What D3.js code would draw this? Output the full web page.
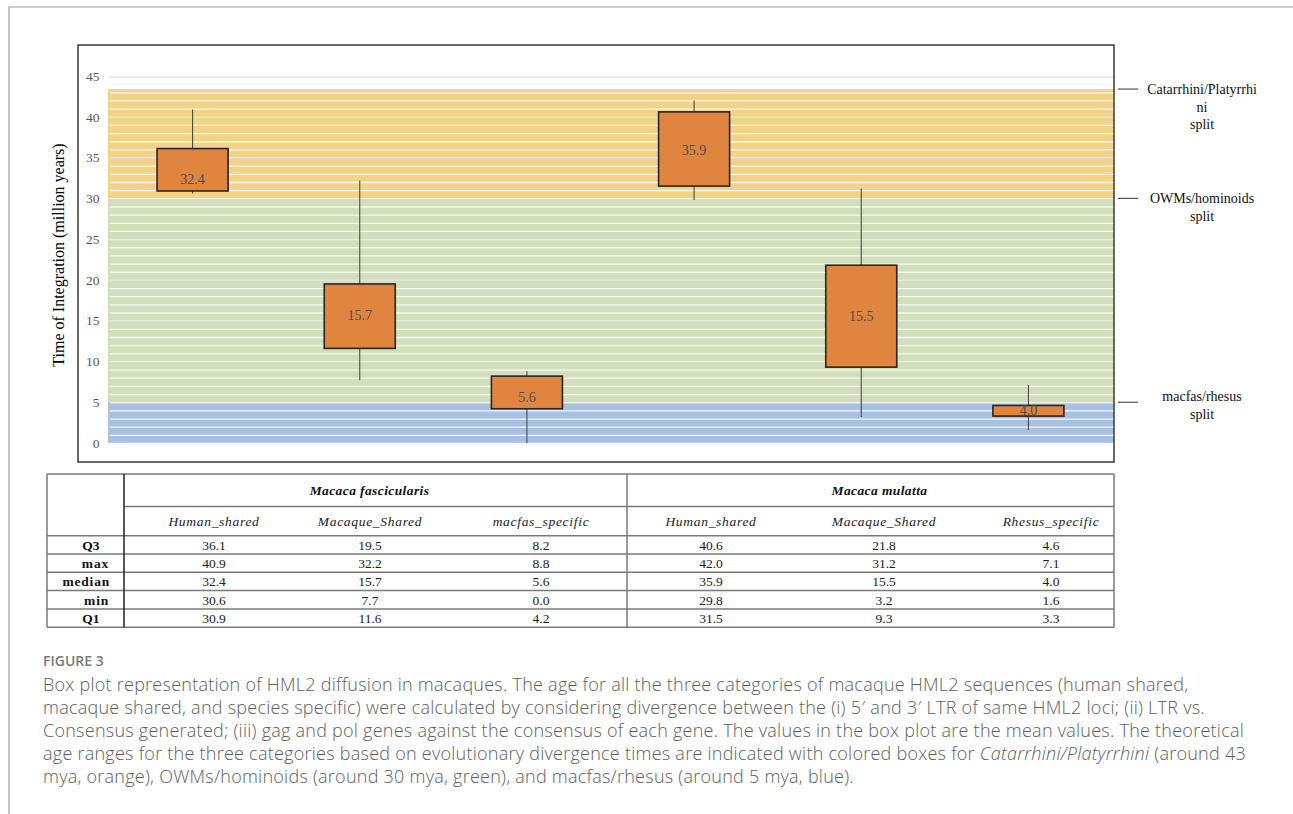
<!DOCTYPE html>
<html>
<head>
<meta charset="utf-8">
<script src="https://cdn.jsdelivr.net/npm/d3@7"></script>
<style>
  body { margin: 0; background: #fff; }
  svg { display: block; }
</style>
</head>
<body>
<svg id="fig" width="1293" height="814"></svg>
<script>
// ---- data ----
const species = ["Macaca fascicularis", "Macaca mulatta"];
const categories = ["Human_shared", "Macaque_Shared", "macfas_specific",
                    "Human_shared", "Macaque_Shared", "Rhesus_specific"];
const q3Values     = [36.1, 19.5, 8.2, 40.6, 21.8, 4.6];
const maxValues    = [40.9, 32.2, 8.8, 42.0, 31.2, 7.1];
const medianValues = [32.4, 15.7, 5.6, 35.9, 15.5, 4.0];
const minValues    = [30.6, 7.7, 0.0, 29.8, 3.2, 1.6];
const q1Values     = [30.9, 11.6, 4.2, 31.5, 9.3, 3.3];

const yTicks = [0, 5, 10, 15, 20, 25, 30, 35, 40, 45];

// divergence-time bands (million years)
const bandLow   = [30, 5, 0];
const bandHigh  = [43.4, 30, 5];
const splitNames = [["Catarrhini/Platyrrhi", "ni", "split"],
                    ["OWMs/hominoids", "split"],
                    ["macfas/rhesus", "split"]];

const rowNames = ["Q3", "max", "median", "min", "Q1"];
const rowValues = [q3Values, maxValues, medianValues, minValues, q1Values];

// ---- layout ----
const svg = d3.select("#fig");
const serif = "'Liberation Serif', 'Times New Roman', serif";
const sans = "'Open Sans', 'Noto Sans', sans-serif";

const frame = { left: 78, top: 45, right: 1114, bottom: 462 };
const plotLeft = 108, plotRight = 1114;

const y = d3.scaleLinear().domain([0, 45]).range([443, 76]);
const x = d3.scaleBand().domain(d3.range(categories.length)).range([109, 1112]);
const boxW = 71;

const bandColors = ["#F3D385", "#D1E0BA", "#A6C1E4"];

// outer figure rule
svg.append("path").attr("d", "M9,814V7H1293").attr("fill", "none")
   .attr("stroke", "#9a9a9a").attr("stroke-width", 1.2);

// divergence bands
svg.append("g").selectAll("rect").data(bandLow).join("rect")
  .attr("x", plotLeft).attr("width", plotRight - plotLeft)
  .attr("y", (d, i) => y(bandHigh[i]))
  .attr("height", (d, i) => y(d) - y(bandHigh[i]))
  .attr("fill", (d, i) => bandColors[i]);

// hatching lines each million years
svg.append("g").selectAll("line").data(d3.range(0, 46)).join("line")
  .attr("x1", plotLeft + 2).attr("x2", plotRight)
  .attr("y1", d => y(d) + 0.5).attr("y2", d => y(d) + 0.5)
  .attr("stroke", "#f7f7f5").attr("stroke-width", 1.3);

// major gridlines
const grid = svg.append("g").attr("transform", `translate(${plotLeft + 2},0)`)
  .call(d3.axisLeft(y).tickValues(yTicks.filter(v => v > 0)).tickSize(-(plotRight - plotLeft - 2)).tickFormat(""));
grid.select(".domain").remove();
grid.selectAll("line").attr("stroke", "#d9d9d9").attr("stroke-width", 1)
    .attr("transform", "translate(0,0.5)");

// y axis labels
const yAxis = svg.append("g").attr("transform", `translate(${plotLeft},0)`)
  .call(d3.axisLeft(y).tickValues(yTicks).tickSize(0).tickPadding(8.5));
yAxis.select(".domain").remove();
yAxis.attr("font-family", serif).attr("font-size", 13.5);
yAxis.selectAll("text").attr("fill", "#595959");

svg.append("text")
  .attr("transform", "translate(64,255) rotate(-90)")
  .attr("text-anchor", "middle")
  .attr("font-family", serif).attr("font-size", 16).attr("fill", "#000")
  .text("Time of Integration (million years)");

// whiskers
const boxes = svg.append("g");
boxes.selectAll("line.whisker").data(categories).join("line")
  .attr("class", "whisker")
  .attr("x1", (d, i) => x(i) + x.bandwidth() / 2)
  .attr("x2", (d, i) => x(i) + x.bandwidth() / 2)
  .attr("y1", (d, i) => y(maxValues[i]))
  .attr("y2", (d, i) => y(minValues[i]))
  .attr("stroke", "#4a4a4a").attr("stroke-width", 1.1);

// interquartile boxes
boxes.selectAll("rect").data(categories).join("rect")
  .attr("x", (d, i) => x(i) + x.bandwidth() / 2 - boxW / 2)
  .attr("width", boxW)
  .attr("y", (d, i) => y(q3Values[i]))
  .attr("height", (d, i) => y(q1Values[i]) - y(q3Values[i]))
  .attr("fill", "#E0853F").attr("stroke", "#262626").attr("stroke-width", 1.6);

// value labels
boxes.selectAll("text").data(medianValues).join("text")
  .attr("x", (d, i) => x(i) + x.bandwidth() / 2)
  .attr("y", d => y(d))
  .attr("dy", "0.35em")
  .attr("text-anchor", "middle")
  .attr("font-family", serif).attr("font-size", 14).attr("fill", "#4d4d4d")
  .text(d => d.toFixed(1));

// chart frame
svg.append("rect").attr("x", frame.left).attr("y", frame.top)
  .attr("width", frame.right - frame.left).attr("height", frame.bottom - frame.top)
  .attr("fill", "none").attr("stroke", "#3a3a3a").attr("stroke-width", 1.5);

// split annotations
const labelShift = [0, 0, -6];
const ann = svg.append("g").selectAll("g").data(bandHigh).join("g");
ann.append("line")
  .attr("x1", 1118).attr("x2", 1138)
  .attr("y1", d => y(d)).attr("y2", d => y(d))
  .attr("stroke", "#333").attr("stroke-width", 1);
ann.append("text")
  .attr("text-anchor", "middle")
  .attr("font-family", serif).attr("font-size", 14).attr("fill", "#111")
  .each(function (d, i) {
    const t = d3.select(this);
    splitNames[i].forEach((line, k) => {
      t.append("tspan").attr("x", 1202)
        .attr("y", y(d) + labelShift[i] + 5 + k * 17.5)
        .text(line);
    });
  });

// ---- summary table ----
const tbl = { left: 47, split: 124, mid: 627, right: 1114,
              top: 474, head1: 506.5, head2: 535.7, rowH: 18.3 };
const colCenters = [214, 370, 541, 711, 884, 1051];
const tableBottom = tbl.head2 + rowNames.length * tbl.rowH;
const T = svg.append("g");

// horizontal rules
const hRules = [
  { y: tbl.top, x1: tbl.left, x2: tbl.right },
  { y: tbl.head1, x1: tbl.split, x2: tbl.right },
  ...d3.range(rowNames.length + 1).map(k => ({ y: tbl.head2 + k * tbl.rowH, x1: tbl.left, x2: tbl.right }))
];
T.selectAll("line.h").data(hRules).join("line").attr("class", "h")
  .attr("x1", d => d.x1).attr("x2", d => d.x2)
  .attr("y1", d => d.y).attr("y2", d => d.y)
  .attr("stroke", "#7a7a7a").attr("stroke-width", 1.5);
// vertical rules
T.selectAll("line.v").data([tbl.left, tbl.split, tbl.mid, tbl.right]).join("line").attr("class", "v")
  .attr("x1", d => d).attr("x2", d => d)
  .attr("y1", tbl.top).attr("y2", tableBottom)
  .attr("stroke", (d, i) => i === 1 ? "#222" : "#7a7a7a")
  .attr("stroke-width", 1.5);

// species headers
T.selectAll("text.sp").data(species).join("text").attr("class", "sp")
  .attr("x", (d, i) => i === 0 ? (tbl.split + tbl.mid) / 2 - 6 : (tbl.mid + tbl.right) / 2 + 9)
  .attr("y", (tbl.top + tbl.head1) / 2 + 5)
  .attr("text-anchor", "middle")
  .attr("font-family", serif).attr("font-size", 13.5)
  .attr("font-weight", "bold").attr("font-style", "italic")
  .attr("letter-spacing", 0.4).attr("fill", "#111")
  .text(d => d);

// category headers
T.selectAll("text.cat").data(categories).join("text").attr("class", "cat")
  .attr("x", (d, i) => colCenters[i])
  .attr("y", (tbl.head1 + tbl.head2) / 2 + 5)
  .attr("text-anchor", "middle")
  .attr("font-family", serif).attr("font-size", 13.5)
  .attr("font-style", "italic").attr("letter-spacing", 0.7).attr("fill", "#222")
  .text(d => d);

// row headers
const rowAlign = { Q3: ["middle", 91], Q1: ["middle", 91], max: ["end", 109], median: ["end", 110], min: ["end", 109] };
T.selectAll("text.rh").data(rowNames).join("text").attr("class", "rh")
  .attr("x", d => rowAlign[d][1])
  .attr("y", (d, k) => tbl.head2 + k * tbl.rowH + tbl.rowH / 2 + 5)
  .attr("text-anchor", d => rowAlign[d][0])
  .attr("font-family", serif).attr("font-size", 13.5).attr("font-weight", "bold")
  .attr("letter-spacing", d => (d === "max" || d === "min" || d === "median") ? 0.8 : 0)
  .attr("fill", "#111")
  .text(d => d);

// values
rowValues.forEach((vals, k) => {
  T.selectAll(`text.v${k}`).data(vals).join("text").attr("class", `v${k}`)
    .attr("x", (d, i) => colCenters[i])
    .attr("y", tbl.head2 + k * tbl.rowH + tbl.rowH / 2 + 5)
    .attr("text-anchor", "middle")
    .attr("font-family", serif).attr("font-size", 13.5).attr("fill", "#222")
    .text(d => d.toFixed(1));
});

// ---- caption ----
svg.append("text").attr("x", 43).attr("y", 666)
  .attr("font-family", sans).attr("font-size", 14).attr("font-weight", 600)
  .attr("fill", "#7a7a7a").text("FIGURE 3");

const captionLines = [
  [["Box plot representation of HML2 diffusion in macaques. The age for all the three categories of macaque HML2 sequences (human shared,", false]],
  [["macaque shared, and species specific) were calculated by considering divergence between the (i) 5\u2032 and 3\u2032 LTR of same HML2 loci; (ii) LTR vs.", false]],
  [["Consensus generated; (iii) gag and pol genes against the consensus of each gene. The values in the box plot are the mean values. The theoretical", false]],
  [["age ranges for the three categories based on evolutionary divergence times are indicated with colored boxes for ", false],
   ["Catarrhini/Platyrrhini", true], [" (around 43", false]],
  [["mya, orange), OWMs/hominoids (around 30 mya, green), and macfas/rhesus (around 5 mya, blue).", false]]
];
const cap = svg.append("text").attr("font-family", sans).attr("font-size", 18)
  .attr("letter-spacing", 0.25)
  .attr("font-weight", 300).attr("fill", "#606060");
captionLines.forEach((parts, k) => {
  parts.forEach((p, j) => {
    const ts = cap.append("tspan").text(p[0]).attr("xml:space", "preserve")
      .style("white-space", "pre");
    if (j === 0) ts.attr("x", 43).attr("y", 691 + k * 23);
    if (p[1]) ts.attr("font-style", "italic");
  });
});
</script>
</body>
</html>
